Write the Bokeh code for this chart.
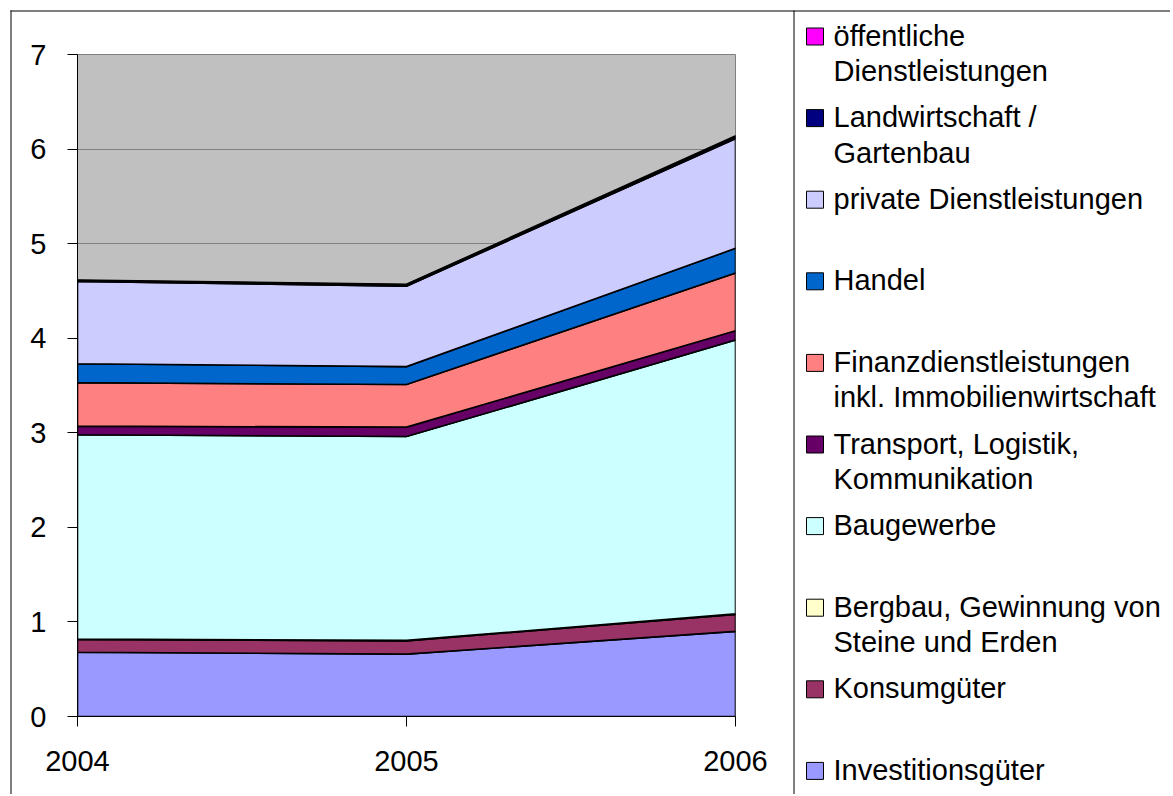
import numpy as np
from bokeh.plotting import figure
from bokeh.models import FixedTicker, Range1d
from bokeh.core.properties import value
from bokeh.embed import file_html
from bokeh.resources import INLINE

years = [2004, 2005, 2006]

# series, bottom to top of the stack
investitionsgueter = [0.68, 0.66, 0.90]
konsumgueter = [0.135, 0.14, 0.18]
bergbau = [0.005, 0.005, 0.005]
baugewerbe = [2.16, 2.155, 2.895]
transport = [0.09, 0.10, 0.10]
finanz = [0.46, 0.45, 0.61]
handel = [0.20, 0.19, 0.26]
private_dl = [0.87, 0.85, 1.16]
landwirtschaft = [0.01, 0.015, 0.02]
oeffentliche = [0.005, 0.005, 0.01]

series = [investitionsgueter, konsumgueter, bergbau, baugewerbe, transport,
          finanz, handel, private_dl, landwirtschaft, oeffentliche]
colors = ["#9999FF", "#993366", "#FFFFCC", "#CCFFFF", "#660066",
          "#FF8080", "#0066CC", "#CCCCFF", "#000080", "#FF00FF"]
labels = ["Investitionsgüter", "Konsumgüter",
          "Bergbau, Gewinnung von\nSteine und Erden", "Baugewerbe",
          "Transport, Logistik,\nKommunikation",
          "Finanzdienstleistungen\ninkl. Immobilienwirtschaft",
          "Handel", "private Dienstleistungen", "Landwirtschaft /\nGartenbau",
          "öffentliche\nDienstleistungen"]
y_ticks = [0, 1, 2, 3, 4, 5, 6, 7]

FONT = "Liberation Sans"
FS = "29px"

W, H = 1170, 794
FL, FR, FT, FB = 77, 735, 54, 716   # frame edges in canvas pixels
X0, X1, Y0, Y1 = 2004, 2006, 0, 7

p = figure(width=W, height=H, output_backend="svg", toolbar_location=None,
           x_range=Range1d(X0, X1), y_range=Range1d(Y0, Y1),
           min_border_left=FL, min_border_right=W - FR, min_border_top=FT,
           min_border_bottom=H - FB)
p.background_fill_color = "#C0C0C0"
p.border_fill_color = "white"
p.outline_line_color = "#808080"
p.outline_line_width = 1


def dx(sx):
    return X0 + (sx - FL) * (X1 - X0) / (FR - FL)


def dy(sy):
    return Y0 + (FB - sy) * (Y1 - Y0) / (FB - FT)


xs_list, ys_list = [], []
cum = np.zeros(len(years))
for s in series:
    top = cum + np.array(s)
    xs_list.append(list(years) + list(years[::-1]))
    ys_list.append(list(top) + list(cum[::-1]))
    cum = top
p.patches(xs=xs_list, ys=ys_list, fill_color=colors, line_color="black",
          line_width=1.6, line_join="miter")

p.xgrid.visible = False
p.ygrid.grid_line_color = "#808080"
p.ygrid.grid_line_width = 1
p.ygrid.level = "underlay"

for ax in (p.xaxis, p.yaxis):
    ax.axis_line_color = "black"
    ax.major_tick_line_color = "black"
    ax.minor_tick_line_color = None
    ax.major_tick_in = 0
    ax.major_tick_out = 10
    ax.major_label_text_font = FONT
    ax.major_label_text_font_size = FS
    ax.major_label_text_color = "black"
p.xaxis.ticker = FixedTicker(ticks=years)
p.yaxis.ticker = FixedTicker(ticks=y_ticks)
p.xaxis.major_label_standoff = 24
p.yaxis.major_label_standoff = 21

# outer frame and legend separator
p.segment(x0=[dx(10), dx(10.5), dx(793.5)], y0=[dy(10.5), dy(10), dy(10)],
          x1=[dx(1170), dx(10.5), dx(793.5)], y1=[dy(10.5), dy(H), dy(H)],
          line_color="black", line_width=1, level="overlay")

# legend entries (top to bottom)
order = list(range(len(series)))[::-1]
mx, my, mc = [], [], []
tx, ty, tt = [], [], []
for i, k in enumerate(order):
    yc = 35 + 81.6 * i
    mx.append(dx(814.5))
    my.append(dy(yc + 1))
    mc.append(colors[k])
    for j, line in enumerate(labels[k].split("\n")):
        tx.append(dx(833))
        ty.append(dy(yc + 35.5 * j))
        tt.append(line)
p.rect(x=mx, y=my, width=17, height=17, width_units="screen",
       height_units="screen", fill_color=mc, line_color="black",
       line_width=1, level="overlay")
p.text(x=tx, y=ty, text=tt, text_font=value(FONT), text_font_size=FS,
       text_baseline="middle", text_align="left", text_color="black",
       level="overlay")

open("out.html", "w").write(file_html(p, INLINE))
